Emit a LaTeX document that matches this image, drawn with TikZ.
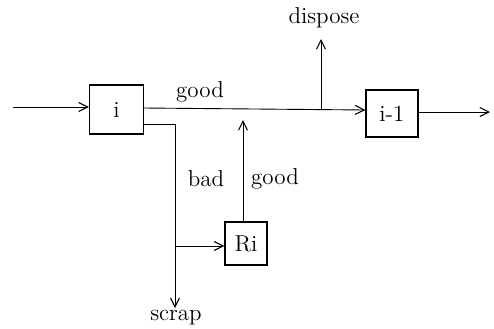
\documentclass[tikz,border=0pt]{standalone}
\usetikzlibrary{arrows.meta}
\begin{document}
\begin{tikzpicture}[x=0.5pt,y=-0.5pt,
  stage/.style={draw,line width=0.6pt,inner sep=0pt,minimum width=27pt,minimum height=24.5pt,
    font=\fontsize{11.5}{13}\selectfont},
  flow/.style={line width=0.45pt,-{Straight Barb[length=4.5pt,width=4.5pt,line width=0.55pt]}},
  plain/.style={line width=0.45pt},
  lbl/.style={font=\fontsize{11.5}{13}\selectfont,inner sep=0pt}]
\useasboundingbox (0,0) rectangle (494,328);
% stations
\node[stage] (i) at (116.5,109.5) {i};
\node[stage,minimum width=26pt,minimum height=23.5pt] (im) at (392,113.5) {i-1};
\node[stage,minimum width=21pt,minimum height=21.5pt] (ri) at (246,243.5) {Ri};
% free ends
\coordinate (in) at (13,107);
\coordinate (out) at (490,112);
\coordinate (dtop) at (321,39);
\coordinate (djoin) at (321,109);
\coordinate (bcorner) at (175,124);
\coordinate (bbot) at (175,308);
\coordinate (rjoin) at (175,246);
\coordinate (rtop) at (243,120);
% connectors
\draw[flow] (in) -- (i.west |- in);
\draw[flow] (i.east |- 0,108) -- (im.west |- 0,110);
\draw[flow] (im.east |- out) -- (out);
\draw[flow] (djoin) -- (dtop);
\draw[plain] (i.east |- bcorner) -- (bcorner);
\draw[flow] (bcorner) -- (bbot);
\draw[flow] (rjoin) -- (ri.west |- rjoin);
\draw[flow] (ri.north -| rtop) -- (rtop);
% labels
\node[lbl] (lgood) at (200,92) {good};
\node[lbl] (ldisp) at (324,18) {dispose};
\node[lbl] (lbad) at (206,179) {bad};
\node[lbl] (lgood2) at (275,179) {good};
\node[lbl] (lscrap) at (176,318) {scrap};
\end{tikzpicture}
\end{document}
